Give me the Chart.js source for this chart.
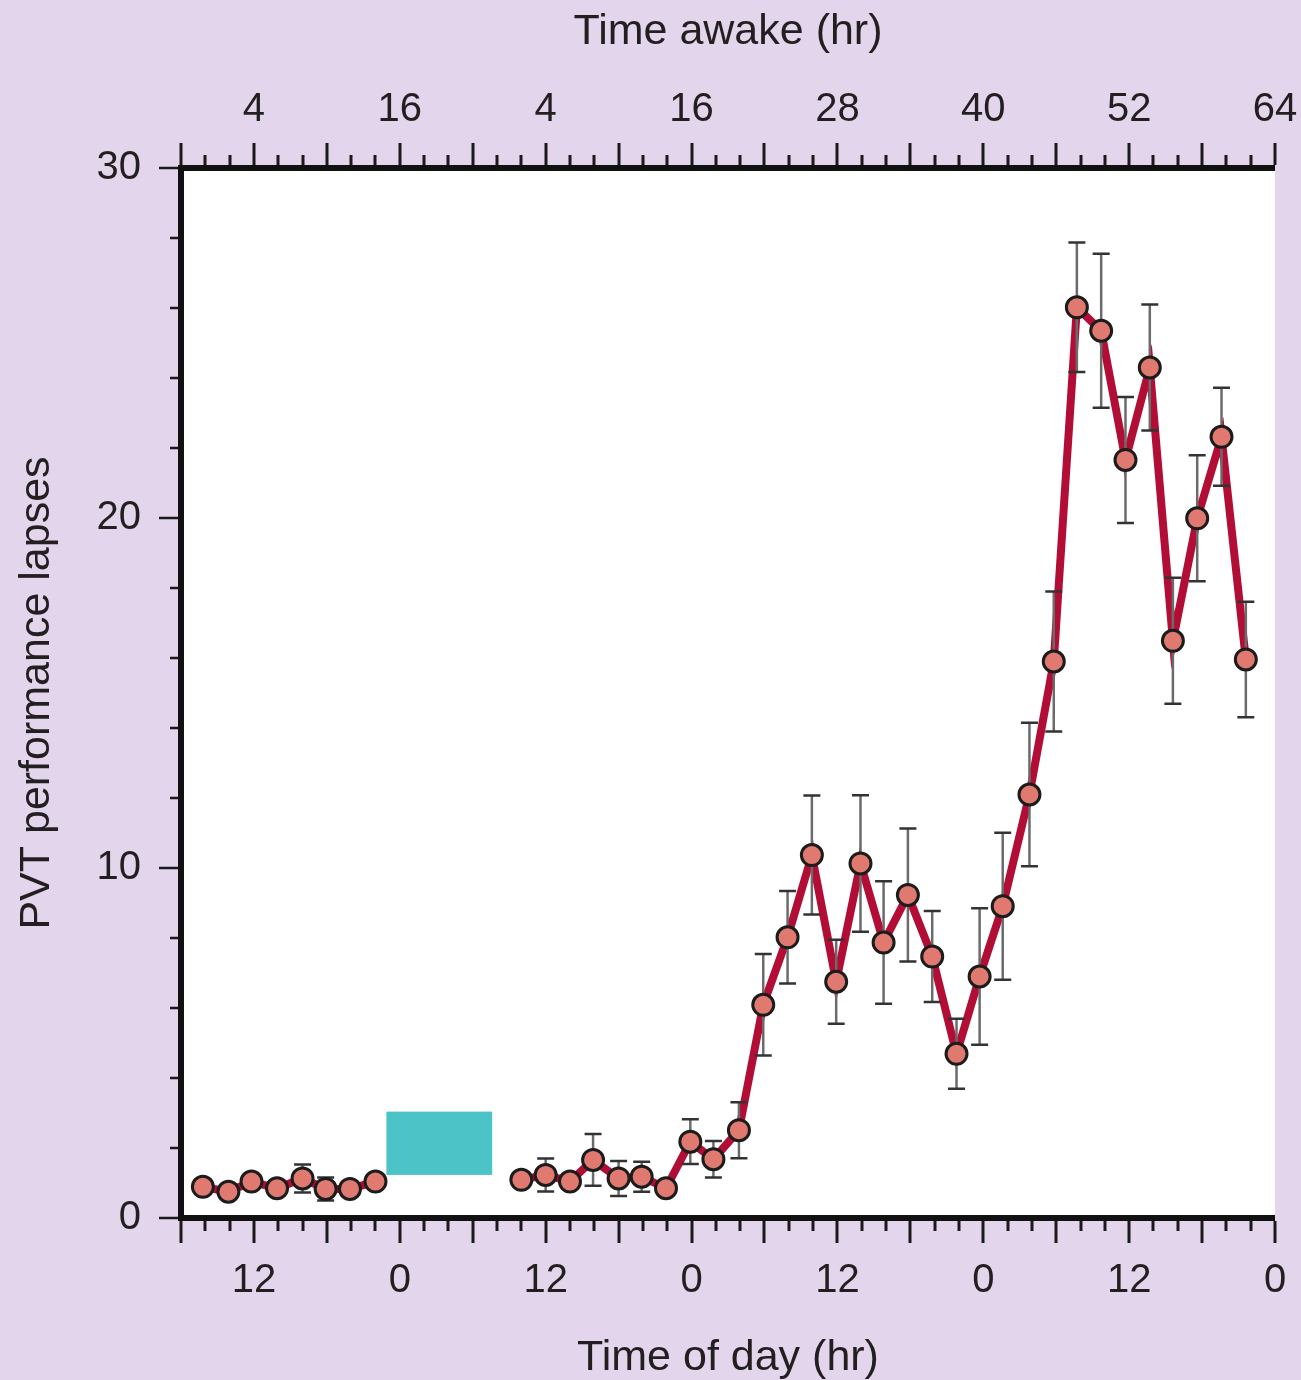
<!DOCTYPE html>
<html>
<head>
<meta charset="utf-8">
<title>PVT performance lapses</title>
<script src="https://cdn.jsdelivr.net/npm/chart.js@4.4.1/dist/chart.umd.min.js"></script>
<style>
  html, body { margin: 0; padding: 0; background: #e2d5ec; }
  canvas { display: block; }
</style>
</head>
<body>
<canvas id="pvtChart" width="1301" height="1380"></canvas>
<script>
// x values are hours after 06:00 on the first day
const firstWakeHours = [1.8, 3.9, 5.8, 7.9, 10.0, 11.9, 13.9, 16.0];
const firstWakeLapses = [0.89, 0.75, 1.04, 0.85, 1.13, 0.83, 0.83, 1.04];
const firstWakeSem = [0.2, 0.2, 0.2, 0.2, 0.4, 0.33, 0.2, 0.2];

const secondWakeHours = [28.0, 30.0, 32.0, 33.9, 36.0, 37.9, 39.9, 41.9, 43.8, 45.9,
  47.9, 49.9, 51.9, 53.9, 55.9, 57.8, 59.8, 61.8, 63.8, 65.7,
  67.6, 69.8, 71.8, 73.7, 75.7, 77.7, 79.7, 81.6, 83.6, 85.6, 87.6];
const secondWakeLapses = [1.09, 1.23, 1.04, 1.66, 1.13, 1.18, 0.85, 2.18, 1.68, 2.51,
  6.09, 8.02, 10.37, 6.75, 10.13, 7.87, 9.23, 7.47, 4.69, 6.9,
  8.91, 12.1, 15.9, 26.02, 25.35, 21.66, 24.3, 16.49, 19.99, 22.32, 15.96];
const secondWakeSem = [0.2, 0.47, 0.2, 0.74, 0.5, 0.43, 0.2, 0.64, 0.52, 0.8,
  1.45, 1.32, 1.7, 1.2, 1.95, 1.75, 1.9, 1.3, 1.0, 1.95,
  2.1, 2.05, 2.0, 1.85, 2.2, 1.8, 1.8, 1.8, 1.8, 1.4, 1.65];

// sleep episode marker
const sleepHours = [16.9, 25.6];
const sleepLapses = [1.23, 3.04];

const labelHours = [6, 18, 30, 42, 54, 66, 78, 90];
const timeOfDayLabels = ['12', '0', '12', '0', '12', '0', '12', '0'];
const timeAwakeLabels = ['4', '16', '4', '16', '28', '40', '52', '64'];
const lapseLabels = [0, 10, 20, 30];

const FONT = "'Liberation Sans', Arial, Helvetica, sans-serif";
const INK = '#231f20';

const toPoints = (hours, lapses) => hours.map((h, i) => ({ x: h, y: lapses[i] }));
const allHours = firstWakeHours.concat(secondWakeHours);
const allLapses = firstWakeLapses.concat(secondWakeLapses);
const allSem = firstWakeSem.concat(secondWakeSem);

const backdrop = {
  id: 'backdrop',
  beforeDraw(chart) {
    const { ctx, chartArea: a } = chart;
    ctx.save();
    ctx.fillStyle = '#e2d5ec';
    ctx.fillRect(0, 0, chart.width, chart.height);
    ctx.fillStyle = '#ffffff';
    ctx.fillRect(a.left, a.top, a.right - a.left, a.bottom - a.top);
    ctx.restore();
  },
  beforeDatasetsDraw(chart) {
    const { ctx, scales } = chart;
    const x0 = scales.x.getPixelForValue(sleepHours[0]);
    const x1 = scales.x.getPixelForValue(sleepHours[1]);
    const y0 = scales.y.getPixelForValue(sleepLapses[1]);
    const y1 = scales.y.getPixelForValue(sleepLapses[0]);
    ctx.save();
    ctx.fillStyle = '#4cc3c7';
    ctx.fillRect(x0, y0, x1 - x0, y1 - y0);
    ctx.restore();
  }
};

// error bars go over the line but under the markers
const errorBars = {
  id: 'errorBars',
  beforeDatasetDraw(chart, args) {
    if (args.index !== 2) return;
    const { ctx, scales } = chart;
    ctx.save();
    ctx.lineWidth = 2.5;
    allHours.forEach((h, i) => {
      const x = scales.x.getPixelForValue(h);
      const top = scales.y.getPixelForValue(allLapses[i] + allSem[i]);
      const bot = scales.y.getPixelForValue(allLapses[i] - allSem[i]);
      ctx.strokeStyle = '#6b6b6b';
      ctx.beginPath();
      ctx.moveTo(x, top);
      ctx.lineTo(x, bot);
      ctx.stroke();
      ctx.strokeStyle = '#333333';
      ctx.beginPath();
      ctx.moveTo(x - 8.5, top);
      ctx.lineTo(x + 8.5, top);
      ctx.moveTo(x - 8.5, bot);
      ctx.lineTo(x + 8.5, bot);
      ctx.stroke();
    });
    ctx.restore();
  }
};

const lineStyle = {
  borderColor: '#b20e35',
  borderWidth: 8,
  pointRadius: 0,
  tension: 0,
  fill: false,
  order: 2
};

const isMajor = (ctx, every) => !ctx.tick || ctx.tick.value % every === 0;
const noOverhang = s => { s.paddingLeft = 0; s.paddingRight = 0; };

new Chart(document.getElementById('pvtChart'), {
  type: 'line',
  data: {
    datasets: [
      Object.assign({ data: toPoints(firstWakeHours, firstWakeLapses) }, lineStyle),
      Object.assign({ data: toPoints(secondWakeHours, secondWakeLapses) }, lineStyle),
      {
        data: toPoints(allHours, allLapses),
        showLine: false,
        pointRadius: 10.5,
        pointBorderWidth: 3,
        pointBackgroundColor: '#e07a71',
        pointBorderColor: '#1c1c1c',
        order: 1
      }
    ]
  },
  options: {
    responsive: false,
    animation: false,
    devicePixelRatio: 1,
    layout: { padding: { left: 0, right: 26, top: 0, bottom: 0 } },
    plugins: { legend: { display: false }, tooltip: { enabled: false } },
    scales: {
      x: {
        type: 'linear',
        position: 'bottom',
        min: 0,
        max: 90,
        afterFit: s => { s.height = 162; noOverhang(s); },
        border: { width: 6, color: '#111' },
        grid: {
          drawOnChartArea: false,
          lineWidth: 0,
          tickLength: 25,
          tickWidth: 3,
          tickColor: '#1a1a1a',
          tickBorderDash: ctx => isMajor(ctx, 6) ? [] : [10, 100]
        },
        ticks: {
          stepSize: 2,
          autoSkip: false,
          maxRotation: 0,
          padding: 18,
          color: INK,
          font: { family: FONT, size: 40, lineHeight: 1 },
          callback: v => { const i = labelHours.indexOf(v); return i >= 0 ? timeOfDayLabels[i] : ''; }
        },
        title: {
          display: true,
          text: 'Time of day (hr)',
          color: INK,
          padding: { top: 0, bottom: 0 },
          font: { family: FONT, size: 43, lineHeight: 1 }
        }
      },
      xTop: {
        type: 'linear',
        position: 'top',
        min: 0,
        max: 90,
        afterFit: s => { s.height = 168; noOverhang(s); },
        border: { width: 6, color: '#111' },
        grid: {
          drawOnChartArea: false,
          lineWidth: 0,
          tickLength: 25,
          tickWidth: 3,
          tickColor: '#1a1a1a',
          tickBorderDash: ctx => isMajor(ctx, 6) ? [] : [0, 12, 10, 100]
        },
        ticks: {
          stepSize: 2,
          autoSkip: false,
          maxRotation: 0,
          padding: 13,
          color: INK,
          font: { family: FONT, size: 40, lineHeight: 1 },
          callback: v => { const i = labelHours.indexOf(v); return i >= 0 ? timeAwakeLabels[i] : ''; }
        },
        title: {
          display: true,
          text: 'Time awake (hr)',
          color: INK,
          padding: { top: 11, bottom: 0 },
          font: { family: FONT, size: 43, lineHeight: 1 }
        }
      },
      y: {
        min: 0,
        max: 30,
        afterFit: s => { s.width = 181; },
        border: { width: 6, color: '#111' },
        grid: {
          drawOnChartArea: false,
          lineWidth: 0,
          tickLength: 22,
          tickWidth: 2.5,
          tickColor: '#1a1a1a',
          tickBorderDash: ctx => isMajor(ctx, 10) ? [] : [0, 11, 8, 100]
        },
        ticks: {
          stepSize: 2,
          autoSkip: false,
          padding: 18,
          color: INK,
          font: { family: FONT, size: 40, lineHeight: 1 },
          callback: v => lapseLabels.includes(v) ? String(v) : ''
        },
        title: {
          display: true,
          text: 'PVT performance lapses',
          color: INK,
          padding: { top: 16, bottom: 0 },
          font: { family: FONT, size: 43, lineHeight: 1 }
        }
      }
    }
  },
  plugins: [backdrop, errorBars]
});
</script>
</body>
</html>
